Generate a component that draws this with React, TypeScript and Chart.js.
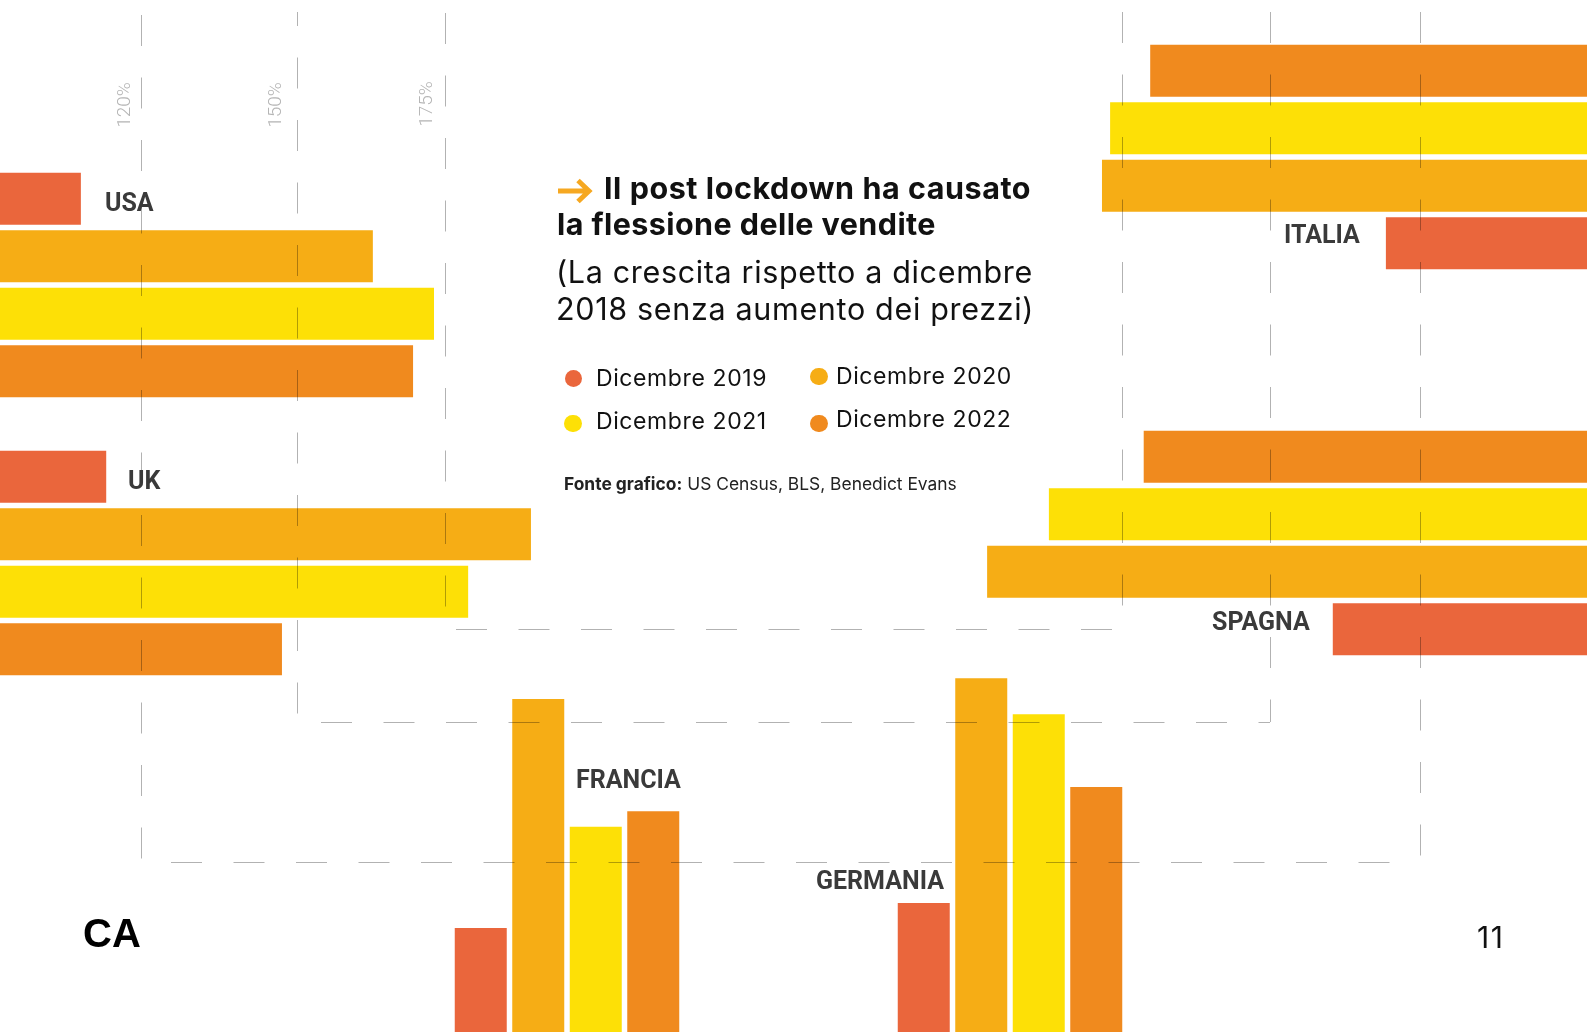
import React, { useEffect, useRef } from "react";
import { Chart, registerables } from "chart.js";

Chart.register(...registerables);

// ---------- data ----------
const YEARS = ["Dicembre 2019", "Dicembre 2020", "Dicembre 2021", "Dicembre 2022"];
const YEAR_COLORS = ["#EA663C", "#F6AD15", "#FDE006", "#F08A1E"];

// growth index vs Dec 2018 (= 100)
const USA = [108.9, 161.9, 173.0, 169.2];
const UK = [113.5, 190.6, 179.2, 145.4];
const ITALIA = [126.3, 178.7, 177.2, 169.8];
const SPAGNA = [136.1, 199.9, 188.5, 171.0];
const FRANCIA = [104.4, 158.5, 128.3, 132.0];
const GERMANIA = [110.3, 163.4, 154.9, 137.7];

const GRID_TICKS = ["120%", "150%", "175%"];

// ---------- layout ----------
const W = 1587;
const H = 1032;
const PITCH = 57.5;
const BAR = 52;

// value-axis calibration per direction (pixels per percentage point, value at the page edge)
const LEFT_SCALE = { base: 94.22, pxPerPct: 5.509 };
const RIGHT_SCALE = { base: 89.18, pxPerPct: 5.418 };
const BOTTOM_SCALE = { base: 79.87, pxPerPct: 4.236 };

type Side = "left" | "right" | "bottom";

function BarGroup(props: {
  values: number[];
  side: Side;
  left: number;
  top: number;
  width: number;
  height: number;
}) {
  const ref = useRef<HTMLCanvasElement | null>(null);
  const { values, side, left, top, width, height } = props;
  useEffect(() => {
    if (!ref.current) return;
    const horizontal = side !== "bottom";
    const cal = side === "left" ? LEFT_SCALE : side === "right" ? RIGHT_SCALE : BOTTOM_SCALE;
    const span = horizontal ? width : height;
    const valueAxis = horizontal ? "x" : "y";
    const catAxis = horizontal ? "y" : "x";
    const chart = new Chart(ref.current, {
      type: "bar",
      data: {
        labels: YEARS,
        datasets: [
          {
            data: values,
            backgroundColor: YEAR_COLORS,
            borderWidth: 0,
            categoryPercentage: 1,
            barPercentage: BAR / PITCH,
          } as any,
        ],
      },
      options: {
        indexAxis: horizontal ? "y" : "x",
        responsive: false,
        animation: false,
        devicePixelRatio: 1,
        events: [],
        layout: { padding: 0 },
        plugins: { legend: { display: false }, tooltip: { enabled: false } },
        scales: {
          [valueAxis]: {
            type: "linear",
            min: cal.base,
            max: cal.base + span / cal.pxPerPct,
            display: false,
            reverse: side === "right",
          },
          [catAxis]: {
            type: "category",
            display: false,
            reverse: side === "right",
          },
        } as any,
      },
    });
    return () => chart.destroy();
  }, [values, side, left, top, width, height]);
  return (
    <canvas
      ref={ref}
      width={width}
      height={height}
      style={{ position: "absolute", left, top, width, height }}
    />
  );
}

// decorative dashed reference lines (the 120% / 150% / 175% levels)
const V_LINES = [
  { x: 141, y0: 15, y1: 862, phase: 15 },
  { x: 297, y0: 12, y1: 722, phase: -5 },
  { x: 445, y0: 13, y1: 629, phase: 13 },
  { x: 1122, y0: 12, y1: 629, phase: 12 },
  { x: 1270, y0: 12, y1: 722, phase: 12 },
  { x: 1420, y0: 12, y1: 862, phase: 12 },
];
const H_LINES = [
  { y: 629, x0: 456, x1: 1122, phase: 456 },
  { y: 722, x0: 321, x1: 1270, phase: 321 },
  { y: 862, x0: 171, x1: 1420, phase: 171 },
];

function GridOverlay() {
  const ref = useRef<HTMLCanvasElement | null>(null);
  useEffect(() => {
    if (!ref.current) return;
    const gridPlugin = {
      id: "dashGrid",
      afterDraw(chart: any) {
        const ctx = chart.ctx;
        const xs = chart.scales.x;
        const ys = chart.scales.y;
        ctx.save();
        ctx.strokeStyle = "rgba(0,0,0,0.30)";
        ctx.lineWidth = 1;
        ctx.setLineDash([31, 31.5]);
        V_LINES.forEach((l) => {
          const px = Math.round(xs.getPixelForValue(l.x)) + 0.5;
          ctx.lineDashOffset = l.y0 - l.phase;
          ctx.beginPath();
          ctx.moveTo(px, ys.getPixelForValue(l.y0));
          ctx.lineTo(px, ys.getPixelForValue(l.y1));
          ctx.stroke();
        });
        H_LINES.forEach((l) => {
          const py = Math.round(ys.getPixelForValue(l.y)) + 0.5;
          ctx.lineDashOffset = l.x0 - l.phase;
          ctx.beginPath();
          ctx.moveTo(xs.getPixelForValue(l.x0), py);
          ctx.lineTo(xs.getPixelForValue(l.x1), py);
          ctx.stroke();
        });
        ctx.restore();
      },
    };
    const chart = new Chart(ref.current, {
      type: "scatter",
      data: { datasets: [] },
      options: {
        responsive: false,
        animation: false,
        devicePixelRatio: 1,
        events: [],
        layout: { padding: 0 },
        plugins: { legend: { display: false }, tooltip: { enabled: false } },
        scales: {
          x: { type: "linear", min: 0, max: W, display: false },
          y: { type: "linear", min: 0, max: H, reverse: true, display: false },
        },
      },
      plugins: [gridPlugin],
    });
    return () => chart.destroy();
  }, []);
  return (
    <canvas
      ref={ref}
      width={W}
      height={H}
      style={{ position: "absolute", left: 0, top: 0, width: W, height: H, pointerEvents: "none" }}
    />
  );
}

const INTER = "Inter, 'Noto Sans', sans-serif";
const ROBOTO = "Roboto, 'Noto Sans', sans-serif";

function Txt(props: {
  x: number;
  baseline: number;
  size: number;
  asc: number;
  family: string;
  weight?: number;
  color?: string;
  spacing?: number;
  children: React.ReactNode;
}) {
  const { x, baseline, size, asc, family, weight = 400, color = "#111", spacing = 0, children } = props;
  return (
    <div
      style={{
        position: "absolute",
        left: x,
        top: baseline - asc * size,
        fontFamily: family,
        fontSize: size,
        lineHeight: `${size}px`,
        fontWeight: weight,
        letterSpacing: spacing,
        color,
        whiteSpace: "nowrap",
      }}
    >
      {children}
    </div>
  );
}

const COUNTRY = (x: number, baseline: number, name: string) => (
  <Txt x={x} baseline={baseline} size={25} asc={0.842} family={ROBOTO} weight={700} color="#3a3a3a">
    {name}
  </Txt>
);

const TICK_POS = [
  { cx: 123, cy: 105 },
  { cx: 274, cy: 105 },
  { cx: 425, cy: 104 },
];

const LEGEND_POS = [
  { x: 596, baseline: 387, dx: 573.3, dy: 378.3 },
  { x: 836, baseline: 384.5, dx: 819, dy: 376.7 },
  { x: 596, baseline: 430, dx: 573, dy: 423.3 },
  { x: 836, baseline: 428, dx: 819, dy: 423.3 },
];

export default function App() {
  return (
    <div
      style={{
        position: "fixed",
        left: 0,
        top: 0,
        width: W,
        height: H,
        overflow: "hidden",
        background: "#ffffff",
      }}
    >
      <BarGroup values={USA} side="left" left={0} top={170} width={560} height={230} />
      <BarGroup values={UK} side="left" left={0} top={448} width={560} height={230} />
      <BarGroup values={ITALIA} side="right" left={W - 620} top={42} width={620} height={230} />
      <BarGroup values={SPAGNA} side="right" left={W - 620} top={428} width={620} height={230} />
      <BarGroup values={FRANCIA} side="bottom" left={452} top={H - 400} width={230} height={400} />
      <BarGroup values={GERMANIA} side="bottom" left={895} top={H - 400} width={230} height={400} />
      <GridOverlay />

      {GRID_TICKS.map((t, i) => (
        <div
          key={t}
          style={{
            position: "absolute",
            left: TICK_POS[i].cx,
            top: TICK_POS[i].cy,
            transform: "translate(-50%, -50%) rotate(-90deg)",
            fontFamily: ROBOTO,
            fontSize: 19,
            lineHeight: "19px",
            fontWeight: 300,
            color: "#b5b5b5",
            whiteSpace: "nowrap",
          }}
        >
          {t}
        </div>
      ))}

      {COUNTRY(105, 211, "USA")}
      {COUNTRY(128, 489, "UK")}
      {COUNTRY(1284, 243, "ITALIA")}
      {COUNTRY(1212, 630, "SPAGNA")}
      {COUNTRY(576, 788, "FRANCIA")}
      {COUNTRY(816, 889, "GERMANIA")}

      <svg
        width={38}
        height={28}
        viewBox="0 0 38 28"
        style={{ position: "absolute", left: 557, top: 177 }}
      >
        <path
          d="M1 14 H32 M21 3.5 L32 14 L21 24.5"
          stroke="#F6A821"
          strokeWidth={5}
          fill="none"
          strokeLinecap="butt"
          strokeLinejoin="miter"
        />
      </svg>
      <Txt x={604} baseline={199} size={30.5} asc={0.864} family={INTER} weight={700} spacing={0.55}>
        Il post lockdown ha causato
      </Txt>
      <Txt x={557} baseline={235} size={30.5} asc={0.864} family={INTER} weight={700} spacing={0.42}>
        la flessione delle vendite
      </Txt>
      <Txt x={556} baseline={283} size={30.5} asc={0.864} family={INTER} weight={400} spacing={0.66}>
        (La crescita rispetto a dicembre
      </Txt>
      <Txt x={556} baseline={320} size={30.5} asc={0.864} family={INTER} weight={400} spacing={0.67}>
        2018 senza aumento dei prezzi)
      </Txt>

      {YEARS.map((y, i) => (
        <React.Fragment key={y}>
          <div
            style={{
              position: "absolute",
              left: LEGEND_POS[i].dx - 8.75,
              top: LEGEND_POS[i].dy - 8.75,
              width: 17.5,
              height: 17.5,
              borderRadius: "50%",
              background: YEAR_COLORS[i],
            }}
          />
          <Txt
            x={LEGEND_POS[i].x}
            baseline={LEGEND_POS[i].baseline}
            size={23}
            asc={0.864}
            family={INTER}
            spacing={0.6}
          >
            {y}
          </Txt>
        </React.Fragment>
      ))}

      <Txt x={564} baseline={490} size={17.4} asc={0.864} family={INTER} color="#222">
        <b style={{ fontWeight: 700 }}>Fonte grafico:</b> US Census, BLS, Benedict Evans
      </Txt>

      <Txt x={83} baseline={947} size={40} asc={0.8465} family="'Liberation Sans', Arial, sans-serif" weight={700} color="#000">
        CA
      </Txt>
      <Txt x={1477} baseline={948} size={30} asc={0.864} family={INTER} color="#111" spacing={1.5}>
        11
      </Txt>
    </div>
  );
}
